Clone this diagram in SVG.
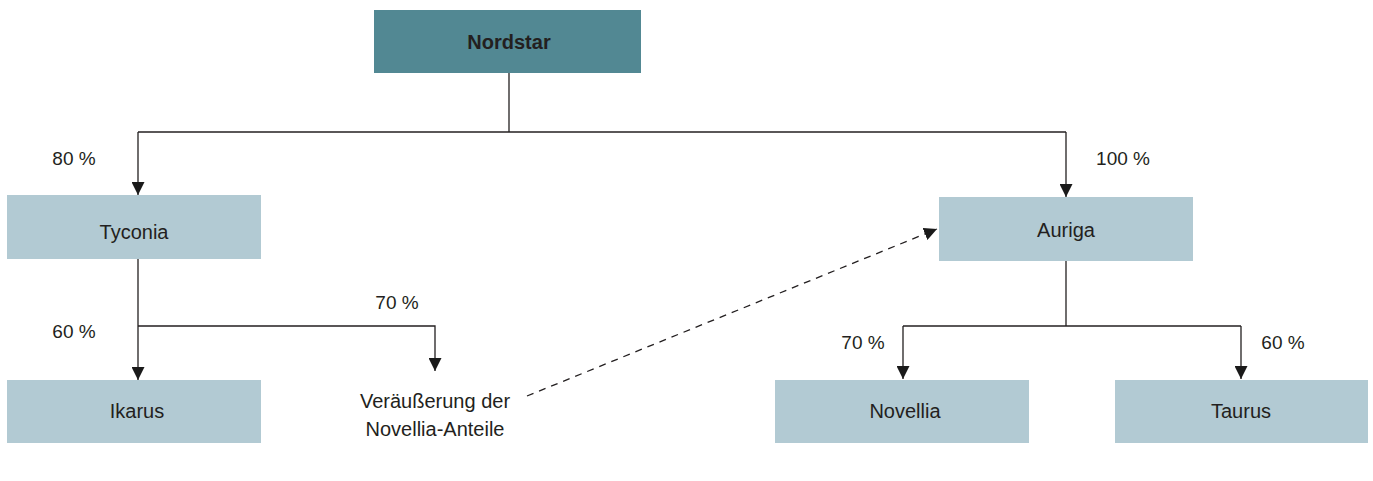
<svg xmlns="http://www.w3.org/2000/svg" width="1373" height="481" viewBox="0 0 1373 481">
<defs>
<marker id="arr" markerWidth="13" markerHeight="13" refX="12" refY="6" orient="auto" markerUnits="userSpaceOnUse" viewBox="0 0 12 12">
<path d="M0,0 L12,6 L0,12 Z" fill="#1a1a1a"/>
</marker>
<style>
.box{fill:#b2cad3}
.top{fill:#528893}
.t{font-family:"Liberation Sans",Arial,sans-serif;font-size:20px;fill:#231f20;text-anchor:middle;dominant-baseline:central}
.lbl{font-family:"Liberation Sans",Arial,sans-serif;font-size:19px;fill:#231f20;text-anchor:middle;dominant-baseline:central}
.ln{fill:none;stroke:#231f20;stroke-width:1.3}
</style>
</defs>
<rect width="1373" height="481" fill="#ffffff"/>
<g id="connectors">
<path class="ln" d="M509,73 V132"/>
<path class="ln" d="M138,132 H1066"/>
<path class="ln" d="M138,132 V195" marker-end="url(#arr)"/>
<path class="ln" d="M1066,132 V197" marker-end="url(#arr)"/>
<path class="ln" d="M138,259 V380" marker-end="url(#arr)"/>
<path class="ln" d="M138,326 H435 V371" marker-end="url(#arr)"/>
<path class="ln" d="M1066,261 V326"/>
<path class="ln" d="M903,326 H1241"/>
<path class="ln" d="M903,326 V379" marker-end="url(#arr)"/>
<path class="ln" d="M1241,326 V379" marker-end="url(#arr)"/>
<path class="ln" d="M527,396 L937,229" stroke-dasharray="7,6" marker-end="url(#arr)"/>
<text class="lbl" x="74" y="158">80 %</text>
<text class="lbl" x="1123" y="158">100 %</text>
<text class="lbl" x="74" y="331">60 %</text>
<text class="lbl" x="397" y="302">70 %</text>
<text class="lbl" x="863" y="342">70 %</text>
<text class="lbl" x="1283" y="342">60 %</text>
</g>
<g id="nordstar">
<rect class="top" x="374" y="10" width="267" height="63"/>
<text class="t" x="509" y="42" font-weight="bold">Nordstar</text>
</g>
<g id="tyconia">
<rect class="box" x="7" y="195" width="254" height="64"/>
<text class="t" x="134" y="232">Tyconia</text>
</g>
<g id="auriga">
<rect class="box" x="939" y="197" width="254" height="64"/>
<text class="t" x="1066" y="230">Auriga</text>
</g>
<g id="ikarus">
<rect class="box" x="7" y="380" width="254" height="63"/>
<text class="t" x="137" y="411">Ikarus</text>
</g>
<g id="veraeusserung">
<text class="t" x="435" y="401">Veräußerung der</text>
<text class="t" x="435" y="429">Novellia-Anteile</text>
</g>
<g id="novellia">
<rect class="box" x="775" y="380" width="254" height="63"/>
<text class="t" x="905" y="411">Novellia</text>
</g>
<g id="taurus">
<rect class="box" x="1115" y="380" width="253" height="63"/>
<text class="t" x="1241" y="411">Taurus</text>
</g>
</svg>
